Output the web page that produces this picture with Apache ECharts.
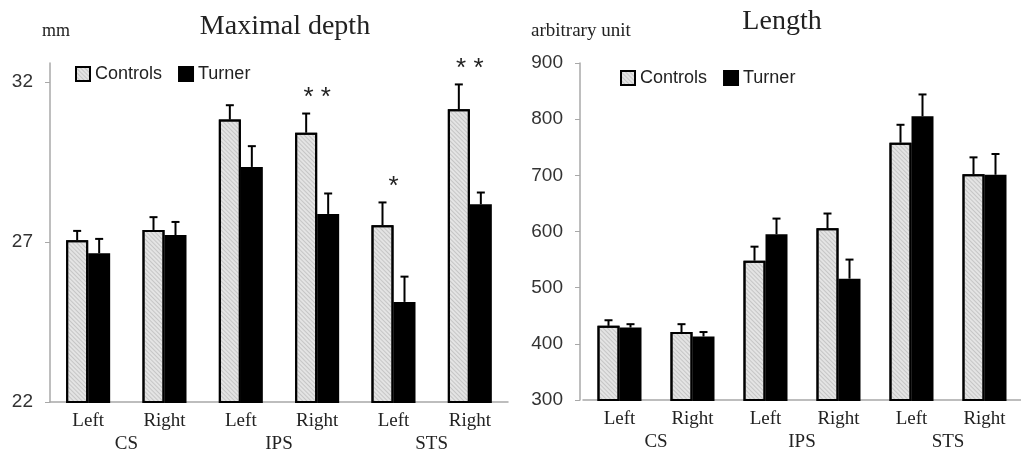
<!DOCTYPE html>
<html>
<head>
<meta charset="utf-8">
<script src="https://cdn.jsdelivr.net/npm/echarts@6/dist/echarts.min.js"></script>
<style>
  html, body { margin: 0; padding: 0; background: #fff; }
  #chart { width: 1021px; height: 454px; }
</style>
</head>
<body>
<div id="chart"></div>
<script>
const sides = ['Left', 'Right', 'Left', 'Right', 'Left', 'Right'];
const sulci = ['CS', 'IPS', 'STS'];

// maximal depth, mm
const depthControls = [27.06, 27.38, 30.83, 30.42, 27.53, 31.15];
const depthControlsErr = [0.29, 0.40, 0.45, 0.60, 0.71, 0.78];
const depthTurner = [26.65, 27.22, 29.35, 27.88, 25.13, 28.18];
const depthTurnerErr = [0.45, 0.41, 0.65, 0.64, 0.79, 0.37];
const depthStars = ['', '', '', '**', '*', '**'];
const depthTicks = [22, 27, 32];

// length, arbitrary unit
const lengthControls = [432, 421, 548, 606, 758, 702];
const lengthControlsErr = [10, 14, 25, 26, 32, 30];
const lengthTurner = [429, 413, 595, 516, 805, 701];
const lengthTurnerErr = [6, 8, 28, 34, 39, 37];

const serif = '"Liberation Serif", "Times New Roman", serif';
const sans = '"Liberation Sans", Arial, sans-serif';
const BAR_W = 22;

let myChart = echarts.init(document.getElementById('chart'));

const hatch = {
  symbol: 'rect',
  symbolSize: 1,
  color: 'rgba(120,120,120,0.28)',
  dashArrayX: [1, 0],
  dashArrayY: [1, 2],
  rotation: Math.PI / 4,
};

function errRender(shift) {
  return function (params, api) {
    const i = api.value(0);
    const v = api.value(1);
    const e = api.value(2);
    const base = api.coord([i, v]);
    const top = api.coord([i, v + e]);
    const x = base[0] + shift;
    const st = { stroke: '#000', lineWidth: 2 };
    return {
      type: 'group',
      children: [
        { type: 'line', shape: { x1: x, y1: base[1], x2: x, y2: top[1] }, style: st },
        { type: 'line', shape: { x1: x - 4, y1: top[1], x2: x + 4, y2: top[1] }, style: st },
      ],
    };
  };
}

function starRender(params, api) {
  const i = api.value(0);
  const idx = params.dataIndex;
  const text = depthStars[idx];
  if (!text) return null;
  const hi = Math.max(depthControls[idx] + depthControlsErr[idx], depthTurner[idx] + depthTurnerErr[idx]);
  const p = api.coord([i, hi]);
  return {
    type: 'text',
    x: p[0],
    y: p[1] - 3,
    style: {
      text: text.split('').join(' '),
      font: '26px ' + sans,
      fill: '#222',
      align: 'center',
      verticalAlign: 'bottom',
    },
  };
}

function xAxes(gridIndex) {
  return [
    {
      type: 'category',
      gridIndex: gridIndex,
      data: sides,
      axisLine: { lineStyle: { color: '#a8a8a8', width: 1.5 } },
      axisTick: { show: false },
      axisLabel: { fontFamily: serif, fontSize: 19, color: '#222', margin: 10 },
    },
    {
      type: 'category',
      gridIndex: gridIndex,
      position: 'bottom',
      offset: 23,
      data: sulci,
      axisLine: { show: false },
      axisTick: { show: false },
      axisLabel: { fontFamily: serif, fontSize: 19, color: '#222', margin: 10 },
    },
  ];
}

function barSeries(name, xi, yi, data, isControl) {
  return {
    name: name,
    type: 'bar',
    xAxisIndex: xi,
    yAxisIndex: yi,
    data: data,
    barWidth: BAR_W,
    barGap: '0%',
    itemStyle: isControl
      ? { color: '#e4e4e4', borderColor: '#000', borderWidth: 2, decal: hatch }
      : { color: '#000', borderColor: '#000', borderWidth: 2 },
    emphasis: { disabled: true },
  };
}

function errSeries(xi, yi, vals, errs, shift) {
  return {
    type: 'custom',
    xAxisIndex: xi,
    yAxisIndex: yi,
    z: 5,
    renderItem: errRender(shift),
    data: vals.map((v, i) => [i, v, errs[i]]),
    encode: { x: 0, y: 1 },
  };
}

const legendText = { fontFamily: sans, fontSize: 18, color: '#222' };

let option = {
  animation: false,
  title: [
    { text: 'Maximal depth', left: 280, top: 8, textAlign: 'center',
      textStyle: { fontFamily: serif, fontSize: 28, fontWeight: 'normal', color: '#222' } },
    { text: 'mm', left: 37, top: 17,
      textStyle: { fontFamily: serif, fontSize: 18, fontWeight: 'normal', color: '#222' } },
    { text: 'Length', left: 777, top: 3, textAlign: 'center',
      textStyle: { fontFamily: serif, fontSize: 28, fontWeight: 'normal', color: '#222' } },
    { text: 'arbitrary unit', left: 526, top: 17,
      textStyle: { fontFamily: serif, fontSize: 19, fontWeight: 'normal', color: '#222' } },
  ],
  legend: [
    { left: 70, top: 60, itemWidth: 14, itemHeight: 14, itemGap: 16, icon: 'rect',
      textStyle: legendText, data: ['Controls', 'Turner'], selectedMode: false },
    { left: 615, top: 64, itemWidth: 14, itemHeight: 14, itemGap: 16, icon: 'rect',
      textStyle: legendText, data: ['Controls', 'Turner'], selectedMode: false },
  ],
  grid: [
    { left: 50, top: 63, width: 458, height: 339 },
    { left: 583, top: 63, width: 443, height: 337 },
  ],
  xAxis: xAxes(0).concat(xAxes(1)),
  yAxis: [
    {
      type: 'value', gridIndex: 0, min: 22, max: 32.6,
      splitLine: { show: false },
      axisLine: { show: true, lineStyle: { color: '#a8a8a8', width: 1.5 } },
      axisTick: { show: true, length: 5, customValues: depthTicks, lineStyle: { color: '#a8a8a8' } },
      axisLabel: { customValues: depthTicks, fontFamily: sans, fontSize: 19, color: '#333', margin: 17 },
    },
    {
      type: 'value', gridIndex: 1, min: 300, max: 900, interval: 100, offset: 3,
      splitLine: { show: false },
      axisLine: { show: true, lineStyle: { color: '#a8a8a8', width: 1.5 } },
      axisTick: { show: true, length: 5, lineStyle: { color: '#a8a8a8' } },
      axisLabel: { fontFamily: sans, fontSize: 19, color: '#333', margin: 17 },
    },
  ],
  series: [
    barSeries('Controls', 0, 0, depthControls, true),
    barSeries('Turner', 0, 0, depthTurner, false),
    errSeries(0, 0, depthControls, depthControlsErr, -BAR_W / 2),
    errSeries(0, 0, depthTurner, depthTurnerErr, BAR_W / 2),
    {
      type: 'custom',
      xAxisIndex: 0,
      yAxisIndex: 0,
      z: 6,
      renderItem: starRender,
      data: depthStars.map((s, i) => [i, depthControls[i]]),
      encode: { x: 0, y: 1 },
    },
    barSeries('Controls', 2, 1, lengthControls, true),
    barSeries('Turner', 2, 1, lengthTurner, false),
    errSeries(2, 1, lengthControls, lengthControlsErr, -BAR_W / 2),
    errSeries(2, 1, lengthTurner, lengthTurnerErr, BAR_W / 2),
  ],
};

myChart.setOption(option);
</script>
</body>
</html>
